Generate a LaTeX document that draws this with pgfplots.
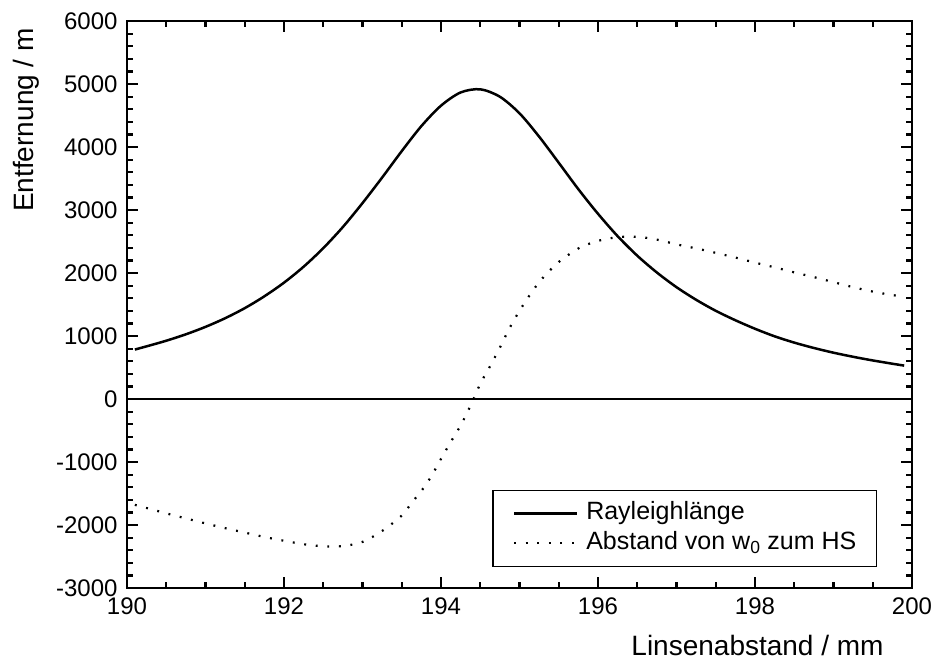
\documentclass[border=0pt]{standalone}
\usepackage{fontspec}
\setmainfont{Liberation Sans}
\usepackage{pgfplots}
\pgfplotsset{compat=1.18}
\usetikzlibrary{calc}

\begin{document}
\begin{tikzpicture}
\begin{axis}[
  name=ax,
  scale only axis,
  width=785pt, height=567pt,
  xmin=190, xmax=200, ymin=-3000, ymax=6000,
  xtick={190,192,...,200},
  ytick={-3000,-2000,...,6000},
  minor x tick num=3,
  minor y tick num=4,
  tick align=inside,
  major tick length=11pt,
  minor tick length=6pt,
  every tick/.style={black, line width=2.2pt},
  axis line style={black, line width=2.5pt},
  scaled ticks=false,
  /pgf/number format/1000 sep={},
  /pgf/number format/assume math mode=true,
  tick label style={font=\fontsize{24}{28}\selectfont},
  yticklabel style={xshift=-6pt},
  xticklabel style={yshift=-6pt},
  label style={font=\fontsize{28}{33}\selectfont},
  xlabel={Linsenabstand / mm},
  ylabel={Entfernung / m},
  xlabel style={at={(axis description cs:0.8032,-0.1182)}, anchor=base},
  ylabel style={at={(axis description cs:-0.128,0.8254)}, anchor=center},
  legend style={
    at={(axis description cs:0.465,0.037)}, anchor=south west,
    draw=black, line width=1.5pt, fill=white,
    inner xsep=20pt, inner ysep=11pt,
    font=\fontsize{25}{30}\selectfont,
    nodes={inner sep=0pt, text height=18pt, text depth=6pt},
    row sep=6pt, column sep=8pt,
  },
  legend cell align=left,
  legend image code/.code={\draw[#1] (0pt,0pt) -- (63pt,0pt);},
]
% Rayleigh length of the beam behind the lens pair
\addplot[black, line width=2.5pt, smooth] coordinates {
  (190.1,785) (190.25,836) (190.5,925) (190.75,1027) (191.0,1145)
  (191.25,1282) (191.5,1442) (191.75,1630) (192.0,1847) (192.25,2100)
  (192.5,2394) (192.75,2730) (193.0,3110) (193.25,3515) (193.5,3935)
  (193.75,4332) (194.0,4656) (194.25,4866) (194.5,4916) (194.75,4798)
  (195.0,4535) (195.25,4165) (195.5,3750) (195.75,3330) (196.0,2940)
  (196.25,2585) (196.5,2275) (196.75,2008) (197.0,1775) (197.25,1575)
  (197.5,1400) (197.75,1250) (198.0,1115) (198.25,995) (198.5,895)
  (198.75,810) (199.0,735) (199.25,670) (199.5,612) (199.75,560)
  (199.9,530)
};
\addlegendentry{Rayleighlänge}
% position of the beam waist relative to the principal plane
\addplot[black, line width=2.2pt, dash pattern=on 1.9pt off 9.7pt, smooth] coordinates {
  (190.1,-1680) (190.25,-1730) (190.5,-1815) (190.75,-1895) (191.0,-1975)
  (191.25,-2050) (191.5,-2120) (191.75,-2190) (192.0,-2250) (192.25,-2305)
  (192.5,-2338) (192.75,-2335) (193.0,-2268) (193.25,-2095) (193.5,-1850)
  (193.625,-1650) (193.75,-1460) (193.875,-1230) (194.0,-950) (194.125,-680)
  (194.25,-420) (194.375,-110) (194.5,240) (194.625,520) (194.75,815)
  (194.875,1130) (195.0,1400) (195.125,1640) (195.25,1855) (195.375,2025)
  (195.5,2175) (195.75,2390) (196.0,2510) (196.25,2568) (196.5,2575)
  (196.75,2530) (197.0,2455) (197.25,2390) (197.5,2320) (197.75,2245)
  (198.0,2165) (198.25,2090) (198.5,2010) (198.75,1935) (199.0,1855)
  (199.25,1775) (199.5,1705) (199.75,1650) (199.9,1625)
};
\addlegendentry{Abstand von w\textsubscript{0} zum HS}
% zero line
\addplot[black, line width=2.5pt, forget plot] coordinates {(190,0) (200,0)};
\end{axis}
\pgfresetboundingbox
\useasboundingbox ($(ax.south west)+(-127pt,-74pt)$) rectangle ($(ax.south west)+(808pt,588pt)$);
\end{tikzpicture}
\end{document}
